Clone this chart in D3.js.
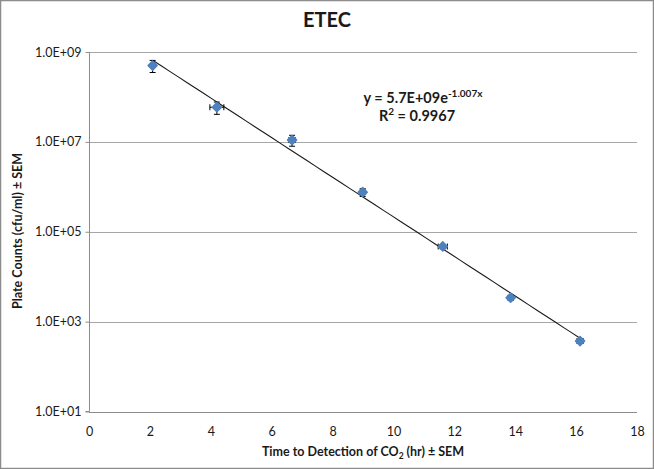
<!DOCTYPE html>
<html>
<head>
<meta charset="utf-8">
<script src="https://cdn.jsdelivr.net/npm/d3@7"></script>
<style>
  html, body { margin: 0; padding: 0; background: #fff; }
  svg { display: block; font-family: Lato, "Open Sans", sans-serif; }
</style>
</head>
<body>
<svg id="chart" width="654" height="469"></svg>
<script>
// ---- data ----
const title = "ETEC";
const xValues = [2.09, 4.2, 6.67, 8.99, 11.62, 13.85, 16.13];
const yValues = [5.0e8, 5.9e7, 1.1e7, 7.6e5, 4.7e4, 3.4e3, 3.7e2];
const xErrors = [0.05, 0.23, 0.1, 0.08, 0.15, 0.08, 0.1];
const yErrors = [1.5e8, 1.8e7, 3e6, 1.5e5, 5e3, 4e2, 4e1];
const xTicks = [0, 2, 4, 6, 8, 10, 12, 14, 16, 18];
const yTicks = [1e1, 1e3, 1e5, 1e7, 1e9];
const yTickLabels = ["1.0E+01", "1.0E+03", "1.0E+05", "1.0E+07", "1.0E+09"];
const equationMain = "y = 5.7E+09e";
const equationExp = "-1.007x";
const rSquaredText = "0.9967";

// ---- layout ----
const W = 654, H = 469;
const plot = { left: 89, right: 637, top: 52, bottom: 411.5 };
const svg = d3.select("#chart");

svg.append("rect").attr("x", 0.5).attr("y", 0.5).attr("width", W - 1).attr("height", H - 1)
  .attr("fill", "#fff").attr("stroke", "#8c8c8c").attr("stroke-width", 1.5);

const x = d3.scaleLinear().domain([0, 18]).range([plot.left, plot.right]);
const y = d3.scaleLog().domain([1e1, 1e9]).range([plot.bottom, plot.top]);

// gridlines
svg.append("g").selectAll("line").data(yTicks.filter(t => t > 1e1)).join("line")
  .attr("x1", plot.left).attr("x2", plot.right)
  .attr("y1", d => Math.round(y(d)) + 0.5).attr("y2", d => Math.round(y(d)) + 0.5)
  .attr("stroke", "#a6a6a6").attr("stroke-width", 1.2);

// y axis
const yAxis = d3.axisLeft(y).tickValues(yTicks)
  .tickFormat((d, i) => yTickLabels[i]).tickSize(4).tickPadding(4);
const gy = svg.append("g").attr("transform", `translate(${plot.left + 0.5},0)`).call(yAxis);
gy.select(".domain").attr("stroke", "#8c8c8c").attr("d", `M-4,${plot.bottom}H0V${plot.top}`);
gy.selectAll(".tick line").attr("stroke", "#8c8c8c");
gy.selectAll(".tick text").attr("font-size", 12.5).attr("fill", "#1a1a1a")
  .attr("font-family", "Lato, sans-serif");

// x axis
const xAxis = d3.axisBottom(x).tickValues(xTicks).tickSize(0).tickPadding(15);
const gx = svg.append("g").attr("transform", `translate(0,${Math.round(plot.bottom) + 0.5})`).call(xAxis);
gx.select(".domain").attr("stroke", "#8c8c8c").attr("d", `M${plot.left},0H${plot.right}`);
gx.selectAll(".tick text").attr("font-size", 12.5).attr("fill", "#1a1a1a")
  .attr("font-family", "Lato, sans-serif");

// title
svg.append("text").attr("x", W / 2).attr("y", 27).attr("text-anchor", "middle")
  .attr("font-size", 20).attr("font-weight", "bold").attr("fill", "#1a1a1a").text(title);

// axis titles
const xt = svg.append("text").attr("x", 363).attr("y", 456).attr("text-anchor", "middle")
  .attr("font-size", 12.5).attr("font-weight", "bold").attr("fill", "#1a1a1a");
xt.append("tspan").text("Time to Detection of CO");
xt.append("tspan").attr("font-size", 8.5).attr("dy", 3).text("2");
xt.append("tspan").attr("dy", -3).text(" (hr) ± SEM");

svg.append("text").attr("transform", "translate(22,231) rotate(-90)").attr("text-anchor", "middle")
  .attr("font-size", 12.5).attr("font-weight", "bold").attr("fill", "#1a1a1a")
  .text("Plate Counts (cfu/ml) ± SEM");

// trendline: least squares fit of ln(y) on x, drawn from first to last point
const lnY = yValues.map(v => Math.log(v));
const mx = d3.mean(xValues), my = d3.mean(lnY);
const b = d3.sum(xValues.map((v, i) => (v - mx) * (lnY[i] - my))) / d3.sum(xValues.map(v => (v - mx) ** 2));
const a = Math.exp(my - b * mx);
const xMin = d3.min(xValues), xMax = d3.max(xValues);
const trendPts = d3.range(0, 51).map(i => xMin + (xMax - xMin) * i / 50).map(t => [t, a * Math.exp(b * t)]);
svg.append("path").datum(trendPts)
  .attr("d", d3.line().x(d => x(d[0])).y(d => y(d[1])))
  .attr("fill", "none").attr("stroke", "#1a1a1a").attr("stroke-width", 1.1);

// error bars
const data = xValues.map((v, i) => ({ x: v, y: yValues[i], ex: xErrors[i], ey: yErrors[i] }));
const eb = svg.append("g").attr("stroke", "#000").attr("stroke-width", 1);
const cap = 3;
data.forEach(d => {
  const cx = x(d.x), cy = y(d.y);
  const yt = y(d.y + d.ey), yb = y(d.y - d.ey);
  eb.append("line").attr("x1", cx).attr("x2", cx).attr("y1", yt).attr("y2", yb);
  eb.append("line").attr("x1", cx - cap).attr("x2", cx + cap).attr("y1", yt).attr("y2", yt);
  eb.append("line").attr("x1", cx - cap).attr("x2", cx + cap).attr("y1", yb).attr("y2", yb);
  const xl = x(d.x - d.ex), xr = x(d.x + d.ex);
  eb.append("line").attr("x1", xl).attr("x2", xr).attr("y1", cy).attr("y2", cy);
  eb.append("line").attr("x1", xl).attr("x2", xl).attr("y1", cy - cap).attr("y2", cy + cap);
  eb.append("line").attr("x1", xr).attr("x2", xr).attr("y1", cy - cap).attr("y2", cy + cap);
});

// markers (square diamonds)
svg.append("g").selectAll("path").data(data).join("path")
  .attr("transform", d => `translate(${x(d.x)},${y(d.y)}) rotate(45)`)
  .attr("d", d3.symbol(d3.symbolSquare, 42))
  .attr("fill", "#4f81bd").attr("stroke", "#4f81bd").attr("stroke-width", 1.5)
  .attr("stroke-linejoin", "round");

// equation label
const eq = svg.append("text").attr("x", 423).attr("y", 103).attr("text-anchor", "middle")
  .attr("font-size", 14.5).attr("font-weight", "bold").attr("fill", "#1a1a1a");
eq.append("tspan").text(equationMain);
eq.append("tspan").attr("font-size", 10).attr("dy", -6).text(equationExp);
const r2 = svg.append("text").attr("x", 417).attr("y", 121).attr("text-anchor", "middle")
  .attr("font-size", 14.5).attr("font-weight", "bold").attr("fill", "#1a1a1a");
r2.append("tspan").text("R");
r2.append("tspan").attr("font-size", 10).attr("dy", -6).text("2");
r2.append("tspan").attr("dy", 6).text(" = " + rSquaredText);
</script>
</body>
</html>
